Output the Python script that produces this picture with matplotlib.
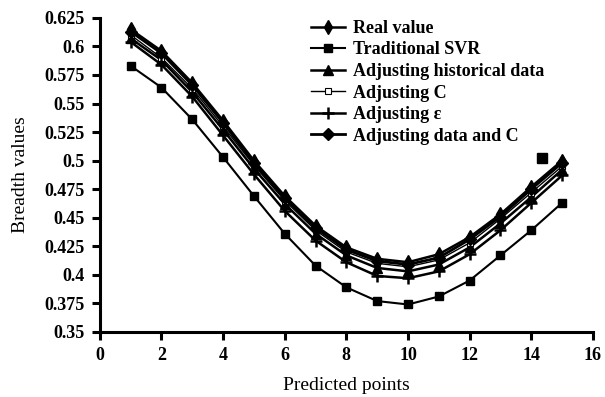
import matplotlib.pyplot as plt
from matplotlib.ticker import FuncFormatter

plt.rcParams['font.family'] = ['Liberation Serif', 'DejaVu Serif']
plt.rcParams['font.weight'] = 'bold'

# predicted points
x = list(range(1, 16))

real_value = [0.615, 0.596, 0.568, 0.535, 0.500, 0.469, 0.443, 0.424, 0.414, 0.411, 0.418, 0.433, 0.453, 0.477, 0.500]
traditional_svr = [0.583, 0.564, 0.536, 0.503, 0.469, 0.436, 0.408, 0.389, 0.377, 0.374, 0.381, 0.395, 0.417, 0.439, 0.463]
adj_historical = [0.607, 0.588, 0.560, 0.527, 0.493, 0.462, 0.436, 0.417, 0.406, 0.403, 0.409, 0.424, 0.445, 0.468, 0.492]
adj_c = [0.610, 0.590, 0.563, 0.530, 0.496, 0.465, 0.439, 0.420, 0.410, 0.407, 0.413, 0.428, 0.449, 0.472, 0.495]
adj_eps = [0.604, 0.584, 0.556, 0.522, 0.488, 0.456, 0.430, 0.411, 0.399, 0.397, 0.403, 0.418, 0.439, 0.463, 0.487]
adj_data_c = [0.613, 0.594, 0.566, 0.533, 0.498, 0.467, 0.441, 0.422, 0.412, 0.409, 0.415, 0.431, 0.451, 0.475, 0.498]

# lone marker that sits near x=14
stray_x = [14.35]
stray_y = [0.502]

fig = plt.figure(figsize=(6.05, 3.97), dpi=100)
ax = fig.add_axes([0.165, 0.164, 0.815, 0.791])

ax.plot(x, real_value, color='black', lw=1.8, marker='d', ms=7, label='Real value')
ax.plot(x, traditional_svr, color='black', lw=1.5, marker='s', ms=6, label='Traditional SVR')
ax.plot(x, adj_historical, color='black', lw=1.8, marker='^', ms=6.5, label='Adjusting historical data')
ax.plot(x, adj_c, color='black', lw=1.0, marker='s', ms=5, mfc='white', mec='black', mew=0.8, label='Adjusting C')
ax.plot(x, adj_eps, color='black', lw=1.8, marker='+', ms=9, mew=1.8, label='Adjusting ε')
ax.plot(x, adj_data_c, color='black', lw=2.0, marker='D', ms=6.5, label='Adjusting data and C')
ax.plot(stray_x, stray_y, ls='none', color='black', marker='s', ms=7)

ax.set_xlim(0, 16)
ax.set_ylim(0.35, 0.625)
ax.set_xticks(range(0, 17, 2))
ax.set_yticks([0.35 + 0.025 * i for i in range(12)])
ax.yaxis.set_major_formatter(FuncFormatter(lambda v, p: ('%.3f' % v).rstrip('0').rstrip('.')))

for s in ['top', 'right']:
    ax.spines[s].set_visible(False)
for s in ['left', 'bottom']:
    ax.spines[s].set_linewidth(2.2)
ax.tick_params(direction='out', width=2.2, length=6, labelsize=13, pad=5)

ax.set_xlabel('Predicted points', fontsize=14, labelpad=9)
ax.set_ylabel('Breadth values', fontsize=14, labelpad=11)

ax.legend(loc='upper left', bbox_to_anchor=(0.395, 1.045), frameon=False, fontsize=13,
          handlelength=1.9, labelspacing=0.25, handletextpad=0.45)

fig.savefig('out.png', dpi=100)
